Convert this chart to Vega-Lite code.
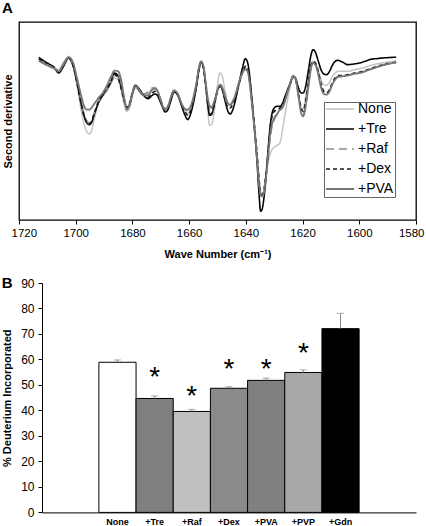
{
  "$schema": "https://vega.github.io/schema/vega-lite/v6.json",
  "padding": {"left": 1, "top": 0, "right": 0, "bottom": 0},
  "background": "white",
  "spacing": 15,
  "config": {
    "font": "Liberation Sans",
    "axis": {"grid": false, "labelColor": "black", "titleColor": "black", "domainColor": "black", "tickColor": "black"}
  },
  "vconcat": [
    {
      "width": 397,
      "height": 198,
      "view": {"stroke": "black", "strokeWidth": 1.3},
      "title": {"text": "A", "anchor": "start", "fontSize": 15, "fontWeight": "bold", "offset": -6, "baseline": "alphabetic", "color": "black"},
      "data": {"values": [
        {"wn": 1713, "+Tre": 488, "None": 476, "+Raf": 481, "+Dex": 484, "+PVA": 478},
        {"wn": 1711, "+Tre": 476, "None": 468, "+Raf": 471, "+Dex": 474, "+PVA": 468},
        {"wn": 1709, "+Tre": 466, "None": 461, "+Raf": 464, "+Dex": 466, "+PVA": 460},
        {"wn": 1707.5, "+Tre": 456, "None": 456, "+Raf": 456, "+Dex": 458, "+PVA": 454},
        {"wn": 1706, "+Tre": 441, "None": 451, "+Raf": 448, "+Dex": 444, "+PVA": 446},
        {"wn": 1704.5, "+Tre": 458, "None": 471, "+Raf": 466, "+Dex": 461, "+PVA": 464},
        {"wn": 1702.5, "+Tre": 486, "None": 491, "+Raf": 488, "+Dex": 486, "+PVA": 488},
        {"wn": 1701, "+Tre": 464, "None": 471, "+Raf": 468, "+Dex": 466, "+PVA": 474},
        {"wn": 1699.5, "+Tre": 411, "None": 401, "+Raf": 416, "+Dex": 411, "+PVA": 424},
        {"wn": 1698, "+Tre": 346, "None": 326, "+Raf": 351, "+Dex": 346, "+PVA": 371},
        {"wn": 1697, "+Tre": 311, "None": 286, "+Raf": 316, "+Dex": 311, "+PVA": 341},
        {"wn": 1696, "+Tre": 291, "None": 264, "+Raf": 296, "+Dex": 291, "+PVA": 331},
        {"wn": 1695.3, "+Tre": 286, "None": 258, "+Raf": 291, "+Dex": 288, "+PVA": 331},
        {"wn": 1694.5, "+Tre": 291, "None": 266, "+Raf": 296, "+Dex": 294, "+PVA": 336},
        {"wn": 1693.5, "+Tre": 316, "None": 301, "+Raf": 321, "+Dex": 318, "+PVA": 348},
        {"wn": 1692, "+Tre": 351, "None": 351, "+Raf": 356, "+Dex": 354, "+PVA": 366},
        {"wn": 1690.5, "+Tre": 374, "None": 371, "+Raf": 376, "+Dex": 378, "+PVA": 381},
        {"wn": 1689, "+Tre": 391, "None": 388, "+Raf": 391, "+Dex": 396, "+PVA": 404},
        {"wn": 1687.5, "+Tre": 416, "None": 411, "+Raf": 416, "+Dex": 418, "+PVA": 431},
        {"wn": 1686.3, "+Tre": 441, "None": 426, "+Raf": 434, "+Dex": 436, "+PVA": 448},
        {"wn": 1685, "+Tre": 431, "None": 421, "+Raf": 431, "+Dex": 424, "+PVA": 446},
        {"wn": 1684, "+Tre": 401, "None": 391, "+Raf": 406, "+Dex": 396, "+PVA": 421},
        {"wn": 1683, "+Tre": 366, "None": 351, "+Raf": 366, "+Dex": 361, "+PVA": 371},
        {"wn": 1682, "+Tre": 338, "None": 326, "+Raf": 336, "+Dex": 336, "+PVA": 331},
        {"wn": 1681, "+Tre": 346, "None": 336, "+Raf": 346, "+Dex": 351, "+PVA": 346},
        {"wn": 1680, "+Tre": 381, "None": 371, "+Raf": 378, "+Dex": 381, "+PVA": 381},
        {"wn": 1679, "+Tre": 404, "None": 396, "+Raf": 401, "+Dex": 401, "+PVA": 401},
        {"wn": 1678, "+Tre": 398, "None": 391, "+Raf": 396, "+Dex": 394, "+PVA": 396},
        {"wn": 1677, "+Tre": 386, "None": 378, "+Raf": 386, "+Dex": 381, "+PVA": 381},
        {"wn": 1676, "+Tre": 374, "None": 374, "+Raf": 378, "+Dex": 374, "+PVA": 374},
        {"wn": 1674.5, "+Tre": 364, "None": 378, "+Raf": 384, "+Dex": 368, "+PVA": 374},
        {"wn": 1673, "+Tre": 374, "None": 396, "+Raf": 396, "+Dex": 381, "+PVA": 391},
        {"wn": 1672, "+Tre": 378, "None": 398, "+Raf": 396, "+Dex": 386, "+PVA": 394},
        {"wn": 1671, "+Tre": 371, "None": 386, "+Raf": 384, "+Dex": 378, "+PVA": 384},
        {"wn": 1670, "+Tre": 351, "None": 361, "+Raf": 361, "+Dex": 356, "+PVA": 358},
        {"wn": 1669, "+Tre": 331, "None": 336, "+Raf": 338, "+Dex": 336, "+PVA": 336},
        {"wn": 1668.5, "+Tre": 324, "None": 331, "+Raf": 334, "+Dex": 331, "+PVA": 333},
        {"wn": 1667.5, "+Tre": 331, "None": 341, "+Raf": 341, "+Dex": 338, "+PVA": 340},
        {"wn": 1666.5, "+Tre": 356, "None": 368, "+Raf": 368, "+Dex": 364, "+PVA": 366},
        {"wn": 1665.3, "+Tre": 384, "None": 391, "+Raf": 389, "+Dex": 386, "+PVA": 388},
        {"wn": 1664, "+Tre": 374, "None": 378, "+Raf": 378, "+Dex": 376, "+PVA": 378},
        {"wn": 1663, "+Tre": 351, "None": 356, "+Raf": 358, "+Dex": 354, "+PVA": 356},
        {"wn": 1662, "+Tre": 326, "None": 336, "+Raf": 338, "+Dex": 334, "+PVA": 338},
        {"wn": 1661, "+Tre": 306, "None": 324, "+Raf": 331, "+Dex": 318, "+PVA": 331},
        {"wn": 1660.5, "+Tre": 301, "None": 318, "+Raf": 328, "+Dex": 314, "+PVA": 331},
        {"wn": 1659.5, "+Tre": 318, "None": 331, "+Raf": 336, "+Dex": 328, "+PVA": 341},
        {"wn": 1658.5, "+Tre": 351, "None": 366, "+Raf": 366, "+Dex": 361, "+PVA": 368},
        {"wn": 1657.5, "+Tre": 396, "None": 406, "+Raf": 406, "+Dex": 401, "+PVA": 408},
        {"wn": 1656.5, "+Tre": 451, "None": 461, "+Raf": 458, "+Dex": 456, "+PVA": 458},
        {"wn": 1655.8, "+Tre": 473, "None": 476, "+Raf": 474, "+Dex": 474, "+PVA": 476},
        {"wn": 1655, "+Tre": 458, "None": 461, "+Raf": 461, "+Dex": 459, "+PVA": 464},
        {"wn": 1654.2, "+Tre": 408, "None": 401, "+Raf": 411, "+Dex": 408, "+PVA": 416},
        {"wn": 1653.4, "+Tre": 346, "None": 326, "+Raf": 358, "+Dex": 348, "+PVA": 364},
        {"wn": 1652.8, "+Tre": 314, "None": 284, "+Raf": 341, "+Dex": 321, "+PVA": 344},
        {"wn": 1652.1, "+Tre": 316, "None": 286, "+Raf": 336, "+Dex": 318, "+PVA": 338},
        {"wn": 1651.3, "+Tre": 341, "None": 316, "+Raf": 348, "+Dex": 341, "+PVA": 353},
        {"wn": 1650.5, "+Tre": 374, "None": 366, "+Raf": 371, "+Dex": 371, "+PVA": 374},
        {"wn": 1649.8, "+Tre": 394, "None": 418, "+Raf": 391, "+Dex": 394, "+PVA": 396},
        {"wn": 1649.1, "+Tre": 401, "None": 441, "+Raf": 406, "+Dex": 401, "+PVA": 406},
        {"wn": 1648.3, "+Tre": 391, "None": 431, "+Raf": 396, "+Dex": 391, "+PVA": 398},
        {"wn": 1647.3, "+Tre": 356, "None": 386, "+Raf": 368, "+Dex": 361, "+PVA": 371},
        {"wn": 1646.2, "+Tre": 324, "None": 351, "+Raf": 346, "+Dex": 336, "+PVA": 348},
        {"wn": 1645.5, "+Tre": 318, "None": 346, "+Raf": 344, "+Dex": 336, "+PVA": 346},
        {"wn": 1644.6, "+Tre": 331, "None": 356, "+Raf": 356, "+Dex": 348, "+PVA": 356},
        {"wn": 1643.5, "+Tre": 366, "None": 381, "+Raf": 381, "+Dex": 374, "+PVA": 381},
        {"wn": 1642.4, "+Tre": 411, "None": 411, "+Raf": 411, "+Dex": 408, "+PVA": 414},
        {"wn": 1641.2, "+Tre": 456, "None": 441, "+Raf": 441, "+Dex": 444, "+PVA": 441},
        {"wn": 1640.2, "+Tre": 484, "None": 456, "+Raf": 454, "+Dex": 461, "+PVA": 451},
        {"wn": 1639.5, "+Tre": 476, "None": 453, "+Raf": 451, "+Dex": 456, "+PVA": 448},
        {"wn": 1638.7, "+Tre": 436, "None": 416, "+Raf": 416, "+Dex": 421, "+PVA": 414},
        {"wn": 1638, "+Tre": 376, "None": 361, "+Raf": 364, "+Dex": 371, "+PVA": 361},
        {"wn": 1637, "+Tre": 276, "None": 276, "+Raf": 281, "+Dex": 286, "+PVA": 276},
        {"wn": 1636, "+Tre": 166, "None": 186, "+Raf": 186, "+Dex": 191, "+PVA": 181},
        {"wn": 1635.3, "+Tre": 71, "None": 116, "+Raf": 111, "+Dex": 116, "+PVA": 106},
        {"wn": 1634.8, "+Tre": 26, "None": 86, "+Raf": 81, "+Dex": 81, "+PVA": 76},
        {"wn": 1634.3, "+Tre": 31, "None": 76, "+Raf": 71, "+Dex": 76, "+PVA": 71},
        {"wn": 1633.7, "+Tre": 61, "None": 86, "+Raf": 81, "+Dex": 86, "+PVA": 81},
        {"wn": 1633, "+Tre": 116, "None": 126, "+Raf": 126, "+Dex": 131, "+PVA": 121},
        {"wn": 1632.3, "+Tre": 196, "None": 166, "+Raf": 181, "+Dex": 186, "+PVA": 176},
        {"wn": 1631.5, "+Tre": 276, "None": 196, "+Raf": 241, "+Dex": 266, "+PVA": 251},
        {"wn": 1630.8, "+Tre": 318, "None": 211, "+Raf": 281, "+Dex": 311, "+PVA": 286},
        {"wn": 1630, "+Tre": 336, "None": 218, "+Raf": 301, "+Dex": 326, "+PVA": 306},
        {"wn": 1629, "+Tre": 341, "None": 224, "+Raf": 316, "+Dex": 331, "+PVA": 318},
        {"wn": 1628, "+Tre": 341, "None": 231, "+Raf": 328, "+Dex": 336, "+PVA": 331},
        {"wn": 1627, "+Tre": 351, "None": 276, "+Raf": 341, "+Dex": 346, "+PVA": 338},
        {"wn": 1626.3, "+Tre": 368, "None": 311, "+Raf": 356, "+Dex": 361, "+PVA": 354},
        {"wn": 1625.5, "+Tre": 386, "None": 351, "+Raf": 378, "+Dex": 381, "+PVA": 378},
        {"wn": 1624.5, "+Tre": 408, "None": 396, "+Raf": 404, "+Dex": 406, "+PVA": 406},
        {"wn": 1623.3, "+Tre": 431, "None": 426, "+Raf": 431, "+Dex": 431, "+PVA": 431},
        {"wn": 1622.5, "+Tre": 426, "None": 421, "+Raf": 424, "+Dex": 424, "+PVA": 424},
        {"wn": 1621.5, "+Tre": 398, "None": 381, "+Raf": 376, "+Dex": 381, "+PVA": 374},
        {"wn": 1620.5, "+Tre": 381, "None": 336, "+Raf": 326, "+Dex": 336, "+PVA": 321},
        {"wn": 1619.8, "+Tre": 381, "None": 331, "+Raf": 314, "+Dex": 326, "+PVA": 311},
        {"wn": 1619, "+Tre": 398, "None": 366, "+Raf": 341, "+Dex": 351, "+PVA": 336},
        {"wn": 1618, "+Tre": 446, "None": 421, "+Raf": 401, "+Dex": 411, "+PVA": 396},
        {"wn": 1617, "+Tre": 496, "None": 466, "+Raf": 458, "+Dex": 464, "+PVA": 456},
        {"wn": 1616.3, "+Tre": 511, "None": 476, "+Raf": 471, "+Dex": 476, "+PVA": 471},
        {"wn": 1615.5, "+Tre": 504, "None": 471, "+Raf": 466, "+Dex": 471, "+PVA": 466},
        {"wn": 1614.5, "+Tre": 478, "None": 451, "+Raf": 441, "+Dex": 446, "+PVA": 438},
        {"wn": 1613.5, "+Tre": 451, "None": 421, "+Raf": 401, "+Dex": 408, "+PVA": 398},
        {"wn": 1612.5, "+Tre": 438, "None": 406, "+Raf": 381, "+Dex": 386, "+PVA": 378},
        {"wn": 1611.5, "+Tre": 436, "None": 404, "+Raf": 378, "+Dex": 381, "+PVA": 376},
        {"wn": 1610.5, "+Tre": 446, "None": 414, "+Raf": 388, "+Dex": 391, "+PVA": 386},
        {"wn": 1609.5, "+Tre": 464, "None": 431, "+Raf": 408, "+Dex": 411, "+PVA": 406},
        {"wn": 1608.5, "+Tre": 476, "None": 441, "+Raf": 424, "+Dex": 426, "+PVA": 421},
        {"wn": 1607.5, "+Tre": 479, "None": 446, "+Raf": 431, "+Dex": 433, "+PVA": 429},
        {"wn": 1606, "+Tre": 474, "None": 446, "+Raf": 431, "+Dex": 433, "+PVA": 431},
        {"wn": 1604, "+Tre": 466, "None": 446, "+Raf": 434, "+Dex": 436, "+PVA": 434},
        {"wn": 1602, "+Tre": 468, "None": 450, "+Raf": 438, "+Dex": 440, "+PVA": 438},
        {"wn": 1600, "+Tre": 471, "None": 454, "+Raf": 441, "+Dex": 443, "+PVA": 441},
        {"wn": 1598, "+Tre": 476, "None": 458, "+Raf": 446, "+Dex": 448, "+PVA": 446},
        {"wn": 1596, "+Tre": 482, "None": 464, "+Raf": 453, "+Dex": 454, "+PVA": 452},
        {"wn": 1594, "+Tre": 484, "None": 468, "+Raf": 458, "+Dex": 460, "+PVA": 458},
        {"wn": 1592, "+Tre": 486, "None": 471, "+Raf": 464, "+Dex": 465, "+PVA": 463},
        {"wn": 1590, "+Tre": 487, "None": 474, "+Raf": 468, "+Dex": 469, "+PVA": 468},
        {"wn": 1588, "+Tre": 488, "None": 476, "+Raf": 471, "+Dex": 472, "+PVA": 471},
        {"wn": 1587, "+Tre": 488, "None": 478, "+Raf": 473, "+Dex": 474, "+PVA": 473}
      ]},
      "transform": [{"fold": ["None", "+Tre", "+Raf", "+Dex", "+PVA"], "as": ["series", "v"]}],
      "mark": {"type": "line", "interpolate": "monotone"},
      "encoding": {
        "x": {
          "field": "wn", "type": "quantitative",
          "scale": {"domain": [1720, 1580], "nice": false},
          "axis": {
            "title": "Wave Number (cm⁻¹)", "titleFontSize": 11, "titleFontWeight": "bold", "titlePadding": 10,
            "values": [1720, 1700, 1680, 1660, 1640, 1620, 1600, 1580],
            "format": "d", "labelFontSize": 11.5, "labelPadding": 3, "tickSize": 4, "domain": false,
            "labelFlush": true, "labelFlushOffset": 8, "labelOverlap": false
          }
        },
        "y": {
          "field": "v", "type": "quantitative",
          "scale": {"domain": [0, 594], "nice": false},
          "axis": {"title": "Second derivative", "labels": false, "ticks": false, "domain": false, "titleFontSize": 11, "titleFontWeight": "bold", "titlePadding": 6}
        },
        "color": {
          "field": "series", "type": "nominal",
          "scale": {"domain": ["None", "+Tre", "+Raf", "+Dex", "+PVA"], "range": ["#c4c4c4", "#000000", "#8c8c8c", "#1a1a1a", "#777777"]},
          "legend": {
            "orient": "none", "legendX": 305, "legendY": 80, "title": null,
            "strokeColor": "#666666", "fillColor": "white", "padding": 1,
            "symbolType": "stroke", "symbolSize": 784, "labelFontSize": 14, "labelColor": "black",
            "labelOffset": 3, "clipHeight": 12, "rowPadding": 6
          }
        },
        "strokeDash": {
          "field": "series", "type": "nominal",
          "scale": {"domain": ["None", "+Tre", "+Raf", "+Dex", "+PVA"], "range": [[1, 0], [1, 0], [8, 5], [4, 3], [1, 0]]}
        },
        "strokeWidth": {
          "field": "series", "type": "nominal",
          "scale": {"domain": ["None", "+Tre", "+Raf", "+Dex", "+PVA"], "range": [1.5, 1.8, 1.5, 1, 1.5]}
        }
      }
    },
    {
      "width": 397,
      "height": 229.4,
      "view": {"stroke": null},
      "title": {"text": "B", "anchor": "start", "fontSize": 15, "fontWeight": "bold", "offset": -26, "baseline": "alphabetic", "color": "black"},
      "data": {"values": [
        {"c": "None", "v": 58.9, "e": 59.8, "star": null},
        {"c": "+Tre", "v": 44.7, "e": 45.7, "star": 54.9},
        {"c": "+Raf", "v": 39.6, "e": 40.4, "star": 47.5},
        {"c": "+Dex", "v": 48.7, "e": 49.3, "star": 58.2},
        {"c": "+PVA", "v": 51.8, "e": 52.7, "star": 58.2},
        {"c": "+PVP", "v": 54.9, "e": 55.9, "star": 64.5},
        {"c": "+Gdn", "v": 72.1, "e": 78.1, "star": null}
      ]},
      "encoding": {
        "x": {
          "field": "c", "type": "nominal", "sort": null,
          "scale": {"domain": [" ", "None", "+Tre", "+Raf", "+Dex", "+PVA", "+PVP", "+Gdn", "  "], "range": [23, 397], "paddingInner": 0, "paddingOuter": 0.53},
          "axis": {"title": null, "labelAngle": 0, "labelFontSize": 9, "labelFontWeight": "bold", "ticks": false, "labelPadding": 5}
        }
      },
      "layer": [
        {
          "mark": {"type": "bar", "stroke": "black", "strokeWidth": 1},
          "encoding": {
            "y": {
              "field": "v", "type": "quantitative",
              "scale": {"domain": [0, 90], "nice": false},
              "axis": {"title": "% Deuterium Incorporated", "offset": -23, "titleFontSize": 11, "titleFontWeight": "bold", "titlePadding": 8, "values": [0, 10, 20, 30, 40, 50, 60, 70, 80, 90], "labelOverlap": false, "labelFontSize": 12, "tickSize": 4, "labelPadding": 4}
            },
            "fill": {
              "field": "c", "type": "nominal",
              "scale": {"domain": ["None", "+Tre", "+Raf", "+Dex", "+PVA", "+PVP", "+Gdn"], "range": ["#ffffff", "#7f7f7f", "#c0c0c0", "#8a8a8a", "#808080", "#a8a8a8", "#000000"]},
              "legend": null
            }
          }
        },
        {
          "mark": {"type": "rule", "color": "#8a8a8a", "strokeWidth": 1},
          "encoding": {
            "y": {"field": "v", "type": "quantitative", "axis": {"title": "% Deuterium Incorporated", "offset": -23, "titleFontSize": 11, "titleFontWeight": "bold", "titlePadding": 8, "values": [0, 10, 20, 30, 40, 50, 60, 70, 80, 90], "labelOverlap": false, "labelFontSize": 12, "tickSize": 4, "labelPadding": 4}},
            "y2": {"field": "e"}
          }
        },
        {
          "mark": {"type": "tick", "color": "#8a8a8a", "size": 7, "thickness": 1},
          "encoding": {"y": {"field": "e", "type": "quantitative", "axis": {"title": "% Deuterium Incorporated", "offset": -23, "titleFontSize": 11, "titleFontWeight": "bold", "titlePadding": 8, "values": [0, 10, 20, 30, 40, 50, 60, 70, 80, 90], "labelOverlap": false, "labelFontSize": 12, "tickSize": 4, "labelPadding": 4}}}
        },
        {
          "transform": [{"filter": "datum.star != null"}],
          "mark": {"type": "text", "text": "*", "fontSize": 28, "baseline": "middle", "dy": 6, "color": "black"},
          "encoding": {"y": {"field": "star", "type": "quantitative", "axis": {"title": "% Deuterium Incorporated", "offset": -23, "titleFontSize": 11, "titleFontWeight": "bold", "titlePadding": 8, "values": [0, 10, 20, 30, 40, 50, 60, 70, 80, 90], "labelOverlap": false, "labelFontSize": 12, "tickSize": 4, "labelPadding": 4}}}
        }
      ]
    }
  ]
}
